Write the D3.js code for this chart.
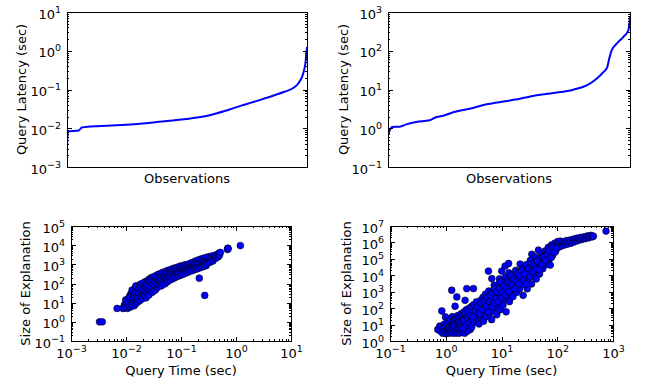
<!DOCTYPE html>
<html><head><meta charset="utf-8">
<script src="https://cdn.jsdelivr.net/npm/d3@7"></script>
<style>body{margin:0;background:#fff} text{font-family:"DejaVu Sans",sans-serif;fill:#000}</style>
</head><body><svg id="c" width="649" height="388"></svg>
<script>
// ---- data ----
const latencyAIndex = [0,4,49,62,139,278,417,487,556,590,625,660,694,729,764,799,833,868,903,944,965,986,993,1000];
const latencyAValues = [0.0033,0.0083,0.0088,0.0104,0.0114,0.0126,0.0154,0.0170,0.0195,0.0214,0.0243,0.0282,0.0331,0.0389,0.0452,0.0525,0.061,0.0724,0.0861,0.111,0.147,0.283,0.46,1.25];
const latencyBIndex = [0,7,18,48,76,117,172,193,228,269,338,407,490,545,614,683,766,821,862,890,906,914,924,945,972,993,1000];
const latencyBValues = [0.66,0.88,1.08,1.10,1.26,1.45,1.6,1.87,2.1,2.58,3.2,4.14,5.05,5.8,7.06,8.1,9.9,12.8,19,28,38,62,102,152,226,336,740];

// [query time (sec), size of explanation]
const sizeAPoints = [[0.0033,1],[0.0037,1],[0.0069,5],[0.0088,5],[0.0093,7],[0.0097,9],[0.0095,5.5],[0.0106,5],[0.0113,7.5],[0.0122,6],
[0.0102,6],[0.0105,11],[0.0099,14],[0.0108,8],[0.0112,17],[0.0115,6.5],[0.0118,24],[0.0111,10],[0.0121,13],[0.0124,8],[0.0127,32],[0.0119,19],[0.0131,10],[0.0134,15],[0.0129,45],[0.0137,22],[0.0141,7],[0.0139,12],[0.0145,28],[0.0148,60],[0.0143,18],[0.0152,9],[0.0155,35],[0.0158,14],[0.0151,75],[0.0162,24],[0.0165,11],[0.0168,48],[0.0161,17],[0.0172,30],[0.0176,85],[0.0179,13],[0.0183,40],[0.0186,20],[0.0181,65],[0.0191,26],[0.0195,100],[0.0198,16],[0.0202,55],[0.0207,33],[0.021,80],[0.0215,22],[0.0219,120],[0.0223,42],[0.0228,68],[0.0232,18],[0.0237,95],[0.0242,30],[0.0246,140],[0.0251,52],[0.0256,78],[0.0261,25],[0.0266,170],[0.0272,110],[0.0277,40],[0.0283,65],[0.0289,200],[0.0295,90],[0.0301,35],[0.0307,150],[0.0313,55],[0.032,230],[0.0327,120],[0.0334,75],[0.0341,45],[0.0348,180],[0.0355,260],[0.0363,100],[0.037,60],[0.0378,140],[0.0386,300],[0.0394,210],[0.0402,85],[0.041,120],[0.0419,330],[0.0428,170],[0.0437,75],[0.0446,250],[0.0455,110],[0.0465,380],[0.0475,190],[0.0485,140],[0.0495,300],[0.0505,95],[0.0516,420],[0.0527,230],[0.0538,160],[0.055,350],[0.0562,120],[0.0574,480],[0.0586,270],[0.0598,190],[0.0611,400],[0.0624,150],[0.0637,520],[0.065,310],[0.0664,220],[0.0678,440],[0.0692,170],[0.0707,600],[0.0722,350],[0.0737,260],[0.0753,480],[0.0769,200],[0.0785,650],[0.0802,400],[0.0819,290],[0.0836,540],[0.0854,230],[0.0872,720],[0.089,450],[0.0909,330],[0.0928,600],[0.0948,260],[0.0968,800],[0.0988,500],[0.101,370],[0.103,650],[0.105,290],[0.108,850],[0.11,550],[0.112,420],[0.115,720],[0.117,330],[0.12,950],[0.123,600],[0.125,470],[0.128,800],[0.131,380],[0.134,1000],[0.137,680],[0.14,520],[0.143,880],[0.146,430],[0.149,1150],[0.152,750],[0.156,580],[0.159,950],[0.163,480],[0.166,1300],[0.17,850],[0.174,650],[0.178,1050],[0.182,540],[0.186,1500],[0.19,950],[0.194,720],[0.198,1200],[0.203,600],[0.208,1700],[0.213,1050],[0.215,190],[0.218,800],[0.223,1350],[0.228,680],[0.233,1900],[0.238,1150],[0.243,900],[0.249,1500],[0.255,760],[0.261,2100],[0.267,1300],[0.27,24],[0.273,1000],[0.279,1700],[0.285,850],[0.292,2300],[0.299,1450],[0.306,1150],[0.313,1900],[0.32,2500],[0.33,1600],[0.34,1300],[0.35,2100],[0.36,2700],[0.37,1800],[0.38,1500],[0.39,2300],[0.41,2900],[0.42,2000],[0.44,2600],[0.46,3300],[0.47,2400],[0.49,3800],[0.5,3000],[0.52,4200],[0.7,6000],[0.71,7000],[0.72,6500],[1.2,9500]];

const sizeBPoints = [[0.72,5],[0.78,8],[0.8,4],[0.85,67],[0.88,3],[0.9,6],[0.92,10],[0.95,4],[0.97,7],[0.99,29],[1.0,2.8],[1.02,5],[1.03,9],[1.05,15],[1.08,4],[1.1,6],[1.12,12],[1.14,3],[1.16,5],[1.18,8],[1.2,20],[1.22,3.5],[1.24,4.5],[1.26,7],[1.28,1230],[1.3,10],[1.32,30],[1.34,3],[1.36,6],[1.38,12],[1.4,18],[1.42,4],[1.44,8],[1.47,130],[1.48,15],[1.5,25],[1.52,3],[1.55,5],[1.58,480],[1.6,10],[1.62,20],[1.64,35],[1.66,4],[1.68,7],[1.7,14],[1.72,30],[1.75,3],[1.78,6],[1.8,12],[1.85,25],[1.88,45],[1.9,4],[1.93,9],[1.96,18],[2.0,40],[2.03,5],[2.06,12],[2.1,25],[2.14,60],[2.18,3],[2.22,300],[2.24,7],[2.26,15],[2.3,30],[2.35,80],[2.38,1550],[2.45,4],[2.5,8],[2.55,18],[2.6,40],[2.65,100],[2.75,5],[2.8,10],[2.85,25],[2.9,50],[2.95,130],[3.14,1550],
[2.05,6],[2.15,18],[2.25,45],[2.35,9],[2.45,28],[2.55,70],[2.62,12],[2.72,35],[2.82,110],[2.92,7],[2.98,22],
[3.05,55],[3.15,160],[3.25,14],[3.35,40],[3.45,90],[3.55,240],[3.65,20],[3.75,60],[3.85,150],[3.95,11],[4.05,35],[4.15,100],[4.25,300],[4.35,25],[4.45,70],[4.55,180],[4.65,450],[4.75,16],[4.85,50],[4.95,130],
[5.05,320],[5.15,700],[5.3,30],[5.45,90],[5.6,220],[5.75,550],[5.83,18000],[5.9,1100],[6.05,45],[6.2,140],[6.35,350],[6.5,800],[6.65,20],[6.7,6300],[6.8,70],[6.95,200],
[7.1,500],[7.25,1300],[7.4,2500],[7.55,110],[7.7,300],[7.85,750],[8.0,1800],[8.2,40],[8.4,180],[8.6,450],[8.8,1100],[9.0,2800],[9.2,6000],[9.4,80],[9.6,300],[9.8,700],
[10.0,1600],[10.1,18000],[10.3,4000],[10.6,150],[10.9,500],[11.2,1200],[11.5,3000],[11.6,36000],[11.8,8000],[12.1,60],[12.4,350],[12.7,900],[13.0,2200],[13.3,5500],[13.4,52000],[13.6,14000],[13.9,250],[14.2,700],[14.6,1800],
[15.0,4500],[15.5,11000],[16.0,500],[16.5,1300],[17.0,3200],[17.5,8000],[18.0,20000],[18.6,900],[19.2,2400],[19.8,6000],[20.5,15000],[21.2,1500],[21.6,48000],[22.0,4000],[22.8,10000],[23.6,25000],[24.4,600],[25.2,2800],
[26,7000],[27,17000],[28,45000],[29,1500],[30,4500],[31,12000],[32,30000],[33,80000],[34.5,3000],[35,190000],[36,9000],[37.5,22000],[39,60000],[40.5,130000],[42,6000],[43.5,17000],[45,45000],[46,340000],[46.5,100000],[48,12000],[49.5,35000],
[51,80000],[53,200000],[55,25000],[57,60000],[59,150000],[61,300000],[63,45000],[65,110000],[67,250000],[69,500000],[71,90000],[73,200000],[75,42000],[76,400000],[79,700000],[82,160000],[85,350000],[88,600000],[91,900000],[94,300000],[97,700000],[98,550000],
[101,1.1e6],[105,5e5],[109,8e5],[113,1.2e6],[118,6e5],[123,9e5],[128,1.1e6],[134,7e5],[140,1e6],[147,1.3e6],[154,8e5],[161,1.1e6],[169,1.4e6],[177,9e5],[186,1.25e6],[195,1.6e6],[205,1.1e6],[215,1.45e6],[226,1.8e6],[237,1.3e6],[249,1.65e6],[261,2e6],[274,1.5e6],[288,1.85e6],[302,2.2e6],[317,1.7e6],[333,2.1e6],[350,2.5e6],[367,1.9e6],[385,2.3e6],[404,2.7e6],[424,2.2e6],[445,2.4e6],[750,4.9e6],
[3.1,30],[3.4,70],[3.7,120],[4.0,45],[4.3,200],[4.6,80],[4.9,260],[5.2,130],[5.5,400],[5.8,60],[6.1,250],[6.4,600],[6.7,120],[7.0,900],[7.3,220],[7.6,1500],[7.9,400],[8.3,1000],[8.7,250],[9.1,1500],[9.5,4000],[9.9,400],[10.5,900],[11.0,2200],[11.6,600],[12.2,1500],[12.8,4000],[13.4,1000],[14.0,3000],[14.8,9000],[15.6,2500],[16.5,6000],[17.5,1500],[18.5,4000],[19.5,12000],[20.5,3000],[21.5,8000],[23,20000],[24.5,5000],[26,12000],[28,3000],[30,25000],[32,8000],[34,50000],[36,18000],[38,40000],[41,25000],[44,70000],[47,22000],[52,45000],[56,120000],[62,80000],[66,180000],[72,300000],[78,120000],[84,500000],[90,250000],[96,450000]];

const yLabelTop = "Query Latency (sec)";
const xLabelTop = "Observations";
const yLabelBottom = "Size of Explanation";
const xLabelBottom = "Query Time (sec)";

// ---- drawing ----
const svg = d3.select("#c");

function majors(lo, hi) { return d3.range(lo, hi + 1).map(k => Math.pow(10, k)); }
function minors(lo, hi) {
  const out = [];
  for (let k = lo; k < hi; k++) for (let m = 2; m <= 9; m++) out.push(m * Math.pow(10, k));
  return out;
}
function supLabel(sel, anchor) {
  sel.each(function(d) {
    const t = d3.select(this);
    const e = Math.round(Math.log10(d));
    t.text(null).attr("text-anchor", anchor).attr("font-size", 13);
    t.append("tspan").text("10");
    t.append("tspan").attr("dy", -6).attr("font-size", 9.5).text(e < 0 ? "\u2212" + (-e) : String(e));
  });
}
function styleAxis(g) {
  g.select(".domain").remove();
  g.selectAll(".tick line").attr("stroke", "#000").attr("stroke-width", 1).attr("shape-rendering", "crispEdges");
}
function yAxes(g, y, lo, hi, x0, x1) {
  const aL = g.append("g").attr("transform", `translate(${x0},0)`)
    .call(d3.axisLeft(y).tickValues(majors(lo, hi)).tickSize(-4.5).tickPadding(6).tickFormat(() => ""));
  styleAxis(aL);
  aL.selectAll(".tick text").attr("x", -6).attr("dy", null).attr("y", 6).call(supLabel, "end");
  styleAxis(g.append("g").attr("transform", `translate(${x0},0)`)
    .call(d3.axisLeft(y).tickValues(minors(lo, hi)).tickSize(-2.2).tickFormat(() => "")));
  styleAxis(g.append("g").attr("transform", `translate(${x1},0)`)
    .call(d3.axisRight(y).tickValues(majors(lo, hi)).tickSize(-4.5).tickFormat(() => "")));
  styleAxis(g.append("g").attr("transform", `translate(${x1},0)`)
    .call(d3.axisRight(y).tickValues(minors(lo, hi)).tickSize(-2.2).tickFormat(() => "")));
}
function xAxes(g, x, lo, hi, y0, y1) {
  const aB = g.append("g").attr("transform", `translate(0,${y1})`)
    .call(d3.axisBottom(x).tickValues(majors(lo, hi)).tickSize(-4.5).tickFormat(() => ""));
  styleAxis(aB);
  aB.selectAll(".tick text").attr("y", 17).attr("dy", null).call(supLabel, "middle");
  styleAxis(g.append("g").attr("transform", `translate(0,${y1})`)
    .call(d3.axisBottom(x).tickValues(minors(lo, hi)).tickSize(-2.2).tickFormat(() => "")));
  styleAxis(g.append("g").attr("transform", `translate(0,${y0})`)
    .call(d3.axisTop(x).tickValues(majors(lo, hi)).tickSize(-4.5).tickFormat(() => "")));
  styleAxis(g.append("g").attr("transform", `translate(0,${y0})`)
    .call(d3.axisTop(x).tickValues(minors(lo, hi)).tickSize(-2.2).tickFormat(() => "")));
}
function frame(g, x0, x1, y0, y1) {
  g.append("rect").attr("x", x0).attr("y", y0).attr("width", x1 - x0).attr("height", y1 - y0)
    .attr("fill", "none").attr("stroke", "#000").attr("stroke-width", 1).attr("shape-rendering", "crispEdges");
}
function yTitle(text, bx, cy) {
  svg.append("text").attr("transform", `translate(${bx},${cy}) rotate(-90)`)
    .attr("text-anchor", "middle").attr("font-size", 13).text(text);
}
function xTitle(text, cx, by) {
  svg.append("text").attr("x", cx).attr("y", by).attr("text-anchor", "middle").attr("font-size", 13).text(text);
}

let clipId = 0;
function linePanel(idx, vals, box, ylo, yhi, ybx) {
  const [x0, x1, y0, y1] = box;
  const g = svg.append("g");
  const x = d3.scaleLinear().domain([0, 1000]).range([x0, x1]);
  const y = d3.scaleLog().domain([Math.pow(10, ylo), Math.pow(10, yhi)]).range([y1, y0]);
  const id = "clip" + (clipId++);
  svg.append("clipPath").attr("id", id).append("rect").attr("x", x0).attr("y", y0).attr("width", x1 - x0).attr("height", y1 - y0);
  const pts = idx.map((d, i) => [d, vals[i]]);
  g.append("path").datum(pts).attr("clip-path", `url(#${id})`)
    .attr("d", d3.line().x(d => x(d[0])).y(d => y(d[1])).curve(d3.curveMonotoneX))
    .attr("fill", "none").attr("stroke", "#0000ff").attr("stroke-width", 2).attr("stroke-linejoin", "round");
  frame(g, x0, x1, y0, y1);
  yAxes(g, y, ylo, yhi, x0, x1);
  yTitle(yLabelTop, ybx, (y0 + y1) / 2);
  xTitle(xLabelTop, (x0 + x1) / 2, y1 + 16);
}
function scatterPanel(pts, box, xlo, xhi, ylo, yhi, ybx) {
  const [x0, x1, y0, y1] = box;
  const g = svg.append("g");
  const x = d3.scaleLog().domain([Math.pow(10, xlo), Math.pow(10, xhi)]).range([x0, x1]);
  const y = d3.scaleLog().domain([Math.pow(10, ylo), Math.pow(10, yhi)]).range([y1, y0]);
  g.selectAll("circle").data(pts).join("circle")
    .attr("cx", d => x(d[0])).attr("cy", d => y(d[1])).attr("r", 3.4)
    .attr("fill", "#0000ff").attr("stroke", "#000").attr("stroke-width", 0.6);
  frame(g, x0, x1, y0, y1);
  yAxes(g, y, ylo, yhi, x0, x1);
  xAxes(g, x, xlo, xhi, y0, y1);
  yTitle(yLabelBottom, ybx, (y0 + y1) / 2);
  xTitle(xLabelBottom, (x0 + x1) / 2, 375);
}

linePanel(latencyAIndex, latencyAValues, [67, 307, 12, 167], -3, 1, 26);
linePanel(latencyBIndex, latencyBValues, [388, 630, 12, 167], -1, 3, 348);
scatterPanel(sizeAPoints, [71, 291, 226, 341], -3, 1, -1, 5, 30);
scatterPanel(sizeBPoints, [390, 613, 226, 341], -1, 3, 0, 7, 351);
</script></body></html>
